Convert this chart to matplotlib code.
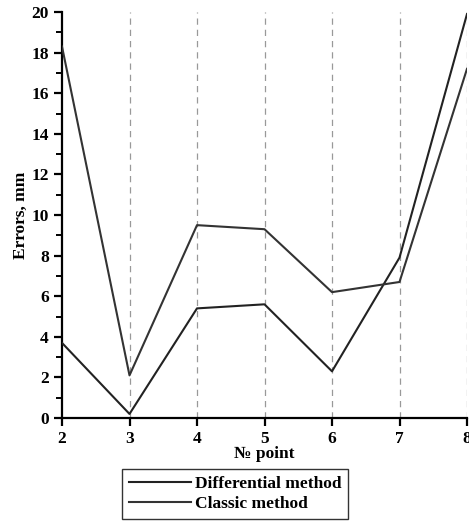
import numpy as np
import matplotlib.pyplot as plt
from matplotlib.ticker import MultipleLocator

plt.rcParams['font.family'] = 'Liberation Serif'
plt.rcParams['font.weight'] = 'bold'

points = [2, 3, 4, 5, 6, 7, 8]
differential = [3.7, 0.2, 5.4, 5.6, 2.3, 7.9, 19.9]
classic = [18.3, 2.1, 9.5, 9.3, 6.2, 6.7, 17.2]

fig = plt.figure(figsize=(4.69, 5.28), dpi=100)
ax = fig.add_axes([62/469, 1-418/528, (467-62)/469, (418-12)/528])

for xv in points[1:]:
    ax.axvline(xv, color='#999999', lw=0.9, ls=(0, (5, 4)), zorder=1)

ax.plot(points, differential, color='#222222', lw=1.5, label='Differential method', zorder=3)
ax.plot(points, classic, color='#333333', lw=1.5, label='Classic method', zorder=3)

ax.set_xlim(2, 8)
ax.set_ylim(0, 20)
ax.set_xticks(points)
ax.yaxis.set_major_locator(MultipleLocator(2))
ax.yaxis.set_minor_locator(MultipleLocator(1))

ax.spines['top'].set_visible(False)
ax.spines['right'].set_visible(False)
ax.spines['left'].set_linewidth(1.6)
ax.spines['bottom'].set_linewidth(1.6)
ax.tick_params(axis='both', which='major', direction='out', length=6, width=1.6, labelsize=12.5)
ax.tick_params(axis='y', which='minor', direction='out', length=4, width=1.4)

ax.set_xlabel('№ point', fontsize=12.5, fontweight='bold', labelpad=-1)
ax.set_ylabel('Errors, mm', fontsize=12.5, fontweight='bold', labelpad=2)

fig.legend(loc='upper left', bbox_to_anchor=(122/469, 1-469/528), fontsize=12.5,
           frameon=True, fancybox=False, edgecolor='black', handlelength=3.6,
           borderpad=0.4, labelspacing=0.2, handletextpad=0.2, borderaxespad=0)

plt.savefig('out.png', dpi=100)
